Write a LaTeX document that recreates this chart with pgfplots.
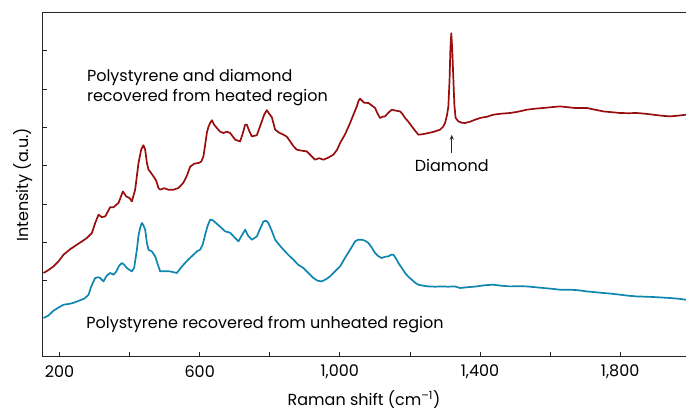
\documentclass[border=0pt]{standalone}
\usepackage{pgfplots}
\pgfplotsset{compat=1.18}
\usetikzlibrary{arrows.meta}
\usepackage{fontspec}
\setmainfont{Poppins}
\definecolor{redc}{RGB}{152,14,14}
\definecolor{bluec}{RGB}{16,134,175}
\begin{document}
\fontsize{16bp}{19bp}\selectfont
\begin{tikzpicture}
\begin{axis}[
  scale only axis, width=644bp, height=344bp,
  xmin=150, xmax=1988, ymin=0, ymax=344,
  axis x line=box, axis y line=left,
  axis line style={-, line width=0.8bp, black!85},
  xtick pos=left, ytick pos=left,
  tick align=inside,
  major tick length=5bp, minor tick length=5bp,
  every tick/.style={black!85, line width=0.8bp},
  xtick={200,600,1000,1400,1800},
  xticklabels={200,600,{1,000},{1,400},{1,800}},
  minor xtick={400,800,1200,1600},
  ytick={76,114.3,152.7,191,229.3,267.7,306},
  yticklabels={},
  /pgf/number format/assume math mode=true,
  xticklabel style={yshift=-3bp},
  xlabel={Raman shift (cm\textsuperscript{–1})},
  ylabel={Intensity (a.u.)},
  xlabel style={at={(axis description cs:0.5,-0.125)}, anchor=center},
  ylabel style={at={(axis description cs:-0.0295,0.5)}, anchor=center},
  clip=true,
]
\addplot[redc, line width=1.7bp, line join=round] coordinates {
(154.3,83.7)(167.7,86.5)(182.9,90.3)(196.3,95)(211.4,102)(230.5,107.5)(249.6,112)(264.7,115.5)(278.2,118.7)(292.4,123.7)(301.8,133.7)(311.2,142)(320.9,139.5)(330.4,140.3)(344.6,149.5)(354.1,149.5)(368.3,153.7)(380.9,165.3)(390.3,160.3)(399.7,158.7)(406.5,155.3)(415.9,167)(425.4,193.7)(433.1,207)(439.6,211.5)(444.5,207)(449.3,194)(453.9,187)(458.8,185)(468.2,180.3)(475.9,176)(482.4,168.7)(487.3,167)(498.7,168.5)(511,167)(525.2,167)(539.5,168.7)(553.7,174)(563.4,181)(572.9,190)(584.3,193)(596.5,193.7)(604.3,195)(610.8,200.3)(615.7,212)(620.5,223.7)(625.1,230)(629.9,233.7)(634.8,236.5)(641.3,232)(649,228.7)(658.5,225)(667.9,223.7)(677.6,225)(687,223.7)(701.3,217)(715.5,215.3)(722.7,223)(729.8,232)(734.6,232)(741.2,226)(748.9,220.3)(763.2,221.5)(777.4,235.3)(784,242)(791.7,246.5)(798.3,243)(806,239.5)(815.4,227)(826.8,224)(839.1,222)(848.8,220)(858.2,215.3)(867.6,210.5)(877.3,207)(891.6,206)(905.8,205.3)(918.1,201)(929.5,197)(940.9,198.5)(953.2,197)(966.6,199)(981.7,202)(992.3,207)(1000.8,213.7)(1015.1,222.5)(1029.4,233.7)(1038.8,242)(1048.5,250.3)(1053.6,256)(1057.9,258)(1069.3,254)(1081.6,253.7)(1092.1,251)(1100.7,248.7)(1107.8,243)(1115,238.7)(1122.1,240)(1129.2,240.3)(1138.6,244)(1148.3,247)(1160.6,246)(1172,245.3)(1179.2,242.5)(1186.3,238.7)(1195.7,235)(1205.4,230.3)(1214.8,226)(1224.2,222)(1237.6,222.5)(1252.8,223.7)(1269,225)(1286.1,227)(1294.7,230)(1300.4,233.7)(1306.1,242)(1309.8,250.3)(1313.2,277)(1315.5,307)(1318.1,323.5)(1320.9,307)(1324.1,277)(1326.9,252)(1330.3,239)(1338.3,235.3)(1347.5,234)(1357.4,233.7)(1371.7,235)(1386,237)(1400.2,238.7)(1420.2,240)(1438.2,242)(1460.1,243)(1485.8,243.7)(1508.7,245)(1533.5,247)(1557.2,248)(1580.8,248.7)(1602.8,249.5)(1628.5,250.3)(1649.9,249.5)(1671.3,248.7)(1688.4,248.7)(1704.7,248.7)(1728.3,247)(1752,245.3)(1775.4,244.5)(1799.7,243.7)(1824,243.5)(1847.3,243.7)(1871,243)(1894.7,242)(1918,241)(1942.3,240.3)(1965.1,241)(1988,242)
};
\addplot[bluec, line width=1.7bp, line join=round] coordinates {
(154.3,38.7)(167.7,41)(182.9,46)(196.3,49)(211.4,52)(230.5,53)(244.8,54.5)(259,56.5)(270.4,58)(278.2,60.3)(282.7,62)(290.4,70)(297,75.3)(301.8,78.7)(310.4,79.5)(316.1,78.7)(325.5,75.3)(334.6,81)(344.6,83.7)(354.1,82)(361.7,85)(370.3,91)(378,93.7)(384.6,92)(392.3,88.7)(398.8,87)(406.5,85.3)(413.1,89)(420.8,107)(425.4,121)(430.2,129)(435,133.7)(438.8,132)(444.5,127)(449.3,114)(453.9,107)(463.6,105.3)(473,100.3)(482.4,90.3)(487.3,85.3)(501.5,85.5)(515.8,85.3)(534.9,83.7)(544.3,88)(553.7,92)(567.2,97)(582.3,102)(592.8,105.5)(601.4,107)(608.5,112)(615.7,122)(622.8,131)(629.9,137)(637.1,136.5)(649,133)(658.5,130)(672.7,125.3)(687,124)(701.3,118.7)(710.7,115.3)(719.8,121)(729.8,127)(738.3,121)(748.9,117)(755.5,118.5)(763.2,120.3)(772.6,128)(782,135.3)(789.7,136)(796.3,133.7)(806.8,125)(815.4,117)(826.8,112)(839.1,107)(852.5,102)(867.6,97)(881,92)(896.1,88.7)(909.5,84)(924.7,78.7)(936.6,76)(948.6,75.3)(960.9,77.5)(972.3,80.3)(986.6,85.5)(1000.8,90.3)(1015.1,99)(1029.4,107)(1043.6,115.3)(1052.2,117)(1062.7,117)(1072.1,116)(1081.6,113.7)(1091.3,109)(1100.7,103.7)(1110.1,100.5)(1119.8,98.7)(1129.2,100)(1138.6,100.3)(1146.3,102)(1152.9,102)(1160.6,98)(1167.2,93.7)(1176.3,89)(1186.3,83.7)(1195.7,80)(1205.4,77)(1214.8,74)(1224.2,72)(1237.6,71)(1252.8,70.3)(1271.9,70)(1290.9,70.3)(1308.9,70)(1328.9,70.3)(1343.2,68.7)(1366,69.5)(1390.8,70.3)(1414.5,71.5)(1438.2,72)(1460.1,71)(1485.8,70.3)(1508.7,70.5)(1533.5,70.3)(1557.2,69.5)(1580.8,68.7)(1602.8,68)(1628.5,67)(1657,67)(1679.9,66.5)(1704.7,65.3)(1728.3,64.5)(1752,63.7)(1775.4,63)(1799.7,62)(1822.5,61)(1847.3,60.3)(1871,60)(1894.7,59.7)(1918,59.2)(1942.3,58.7)(1965.1,58)(1988,57)
};
\node[anchor=base west, inner sep=0pt] at (axis cs:278,275.3) {Polystyrene and diamond};
\node[anchor=base west, inner sep=0pt] at (axis cs:278,255.3) {recovered from heated region};
\node[anchor=base west, inner sep=0pt] at (axis cs:276,28.7) {Polystyrene recovered from unheated region};
\node[anchor=base, inner sep=0pt] at (axis cs:1319.5,184.7) {Diamond};
\draw[-{Stealth[length=5bp,width=4bp]}, line width=0.8bp, black!85] (axis cs:1319.5,204) -- (axis cs:1319.5,222);
\end{axis}
\pgfresetboundingbox
\path[use as bounding box] ([shift={(-42bp,-55.3bp)}]current axis.south west) rectangle ([shift={(0bp,12.7bp)}]current axis.north east);
\end{tikzpicture}
\end{document}
